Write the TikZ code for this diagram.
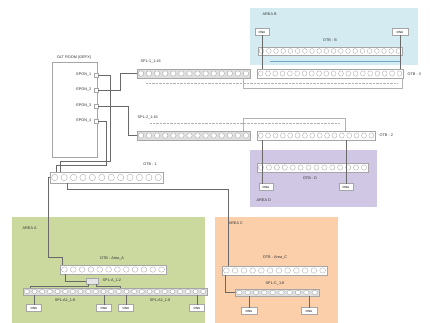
\documentclass[tikz,border=0pt]{standalone}
\usepackage{fontspec}
\setmainfont{Liberation Sans}
\definecolor{areaBc}{RGB}{212,236,241}
\definecolor{areaDc}{RGB}{207,199,228}
\definecolor{areaAc}{RGB}{203,217,158}
\definecolor{areaCc}{RGB}{250,207,170}
\definecolor{wirec}{RGB}{105,105,105}
\definecolor{bluel}{RGB}{110,165,200}
\newcommand\mkstrip[7]{%
  \node[#7, minimum width={(#4-#2)*1pt}, minimum height={(#5-#3)*1pt}] (#1) at ({(#2+#4)/2},{(#3+#5)/2}) {};
  \pgfmathsetmacro\mkpw{(#4-#2)/#6}%
  \pgfmathsetmacro\mkrx{0.33*\mkpw}%
  \pgfmathsetmacro\mkry{0.3*(#5-#3)}%
  \pgfmathsetmacro\mkcy{(#3+#5)/2}%
  \foreach \k in {1,...,#6}{\pgfmathsetmacro\mkcx{#2+(\k-0.5)*\mkpw}\draw[port] (\mkcx,\mkcy) ellipse [x radius=\mkrx pt, y radius=\mkry pt];}%
}
\tikzset{
  wire/.style={draw=wirec, line width=0.4pt},
  stripw/.style={draw=gray!70, fill=white, line width=0.4pt, inner sep=0pt, outer sep=0pt, rectangle},
  stripg/.style={draw=gray!70, fill=gray!25, line width=0.4pt, inner sep=0pt, outer sep=0pt, rectangle},
  port/.style={draw=gray!75, fill=white, line width=0.3pt},
  onu/.style={draw=gray!70, fill=white, line width=0.4pt, inner sep=0pt, outer sep=0pt, minimum width=14pt, minimum height=7pt, font=\fontsize{3}{3}\selectfont},
  oltport/.style={draw=gray!70, fill=white, line width=0.3pt, inner sep=0pt, outer sep=0pt, minimum size=4pt},
  lbl/.style={font=\fontsize{3.8}{4}\selectfont, text=black!80, inner sep=0.5pt},
  bus/.style={draw=gray!60, line width=0.3pt},
  dbus/.style={draw=gray!60, line width=0.6pt, dash pattern=on 0.4pt off 1pt},
}
\begin{document}
\begin{tikzpicture}[x=1pt,y=-1pt]
\useasboundingbox (0,0) rectangle (430,323);
\fill[white] (0,0) rectangle (430,323);
% areas
\fill[areaBc] (250,8) rectangle (418,65);
\fill[areaDc] (250,150) rectangle (377,207);
\fill[areaAc] (12,217) rectangle (205,323);
\fill[areaCc] (215,217) rectangle (338,323);
\node[lbl, anchor=west] (tAB) at (262,14) {AREA B};
\node[lbl, anchor=west] (tAD) at (256,200) {AREA D};
\node[lbl, anchor=west] (tAA) at (22,228) {AREA A};
\node[lbl, anchor=west] (tAC) at (228,223) {AREA C};

% OLT
\node[draw=gray!70, line width=0.4pt, fill=white, minimum width=45pt, minimum height=95pt, inner sep=0pt] (olt) at (74.5,109.5) {};
\node[lbl] (toLT) at (74,58) {OLT ROOM (GEPX)};
\node[oltport] (p1) at (96,75) {};
\node[oltport] (p2) at (96,90) {};
\node[oltport] (p3) at (96,106) {};
\node[oltport] (p4) at (96,121) {};
\node[lbl, anchor=east] (tp1) at (92,75) {EPON\_1};
\node[lbl, anchor=east] (tp2) at (92,90) {EPON\_2};
\node[lbl, anchor=east] (tp3) at (92,106) {EPON\_3};
\node[lbl, anchor=east] (tp4) at (92,121) {EPON\_4};

% strips
\mkstrip{otbB}{258}{47}{402}{55}{20}{stripw}
\mkstrip{spl1}{137}{69}{250}{78}{14}{stripg}
\mkstrip{otb3}{257}{69}{403}{78}{20}{stripw}
\mkstrip{spl2}{137}{131}{250}{140}{14}{stripg}
\mkstrip{otb2}{257}{131}{375}{140}{16}{stripw}
\mkstrip{otbD}{257}{163}{368}{172}{14}{stripw}
\mkstrip{otb1}{50}{172}{163}{183}{12}{stripw}
\mkstrip{otbA}{60}{265}{166}{274}{12}{stripw}
\mkstrip{splA}{23}{288}{207}{295}{24}{stripg}
\mkstrip{otbC}{222}{266}{327}{275}{12}{stripw}
\mkstrip{splC}{235}{289}{319}{296}{10}{stripg}

\node[lbl] (tB) at (330,40) {OTB - B};
\node[lbl, anchor=west] (tS1) at (140,62) {SPL-1\_1:16};
\node[lbl, anchor=west] (t3) at (407,74) {OTB - 3};
\node[lbl, anchor=west] (tS2) at (137,118) {SPL-2\_1:16};
\node[lbl, anchor=west] (t2) at (379,135) {OTB - 2};
\node[lbl] (tD) at (310,178) {OTB - D};
\node[lbl] (t1) at (150,164) {OTB - 1};
\node[lbl] (tA) at (112,259) {OTB - Area\_A};
\node[lbl, anchor=west] (tsA) at (102,281) {SPL-A\_1:2};
\node[lbl] (tsA1) at (65,301) {SPL-A1\_1:8};
\node[lbl] (tsA2) at (160,301) {SPL-A2\_1:8};
\node[lbl] (tC) at (275,258) {OTB - Area\_C};
\node[lbl] (tsC) at (275,284) {SPL-C\_1:8};

% ONU boxes
\node[onu] (bB1) at (262,32) {ONU};
\node[onu, minimum width=16pt] (bB2) at (400,32) {ONU};
\node[onu] (bD1) at (266,187) {ONU};
\node[onu] (bD2) at (346,187) {ONU};
\node[onu, minimum width=15pt] (bA1) at (34,308) {ONU};
\node[onu, minimum width=15pt] (bA2) at (104,308) {ONU};
\node[onu, minimum width=15pt] (bA3) at (126,308) {ONU};
\node[onu, minimum width=15pt] (bA4) at (197,308) {ONU};
\node[onu, minimum width=16pt] (bC1) at (249,311) {ONU};
\node[onu, minimum width=16pt] (bC2) at (309,311) {ONU};
\node[onu, minimum width=12pt, minimum height=6pt, fill=gray!20] (sA) at (92,281) {};

% buses between splitters and OTBs
\draw[bus] (243,78) -- (243,88) -- (402,88) -- (402,78);
\draw[dbus] (146,83) -- (398,83);
\draw[bus] (243,131) -- (243,118) -- (345,118) -- (345,131);
\draw[dbus] (150,123) -- (340,123);
\draw[bluel, line width=0.8pt] (270,61) -- (400,61);

% OLT wiring
\draw[wire] (p1.east) -- (110,75) -- (110,161) -- (60,161) -- (60,172);
\draw[wire] (p2.east) -- (120,90) |- (spl1.west);
\draw[wire] (p3.east) -- (128,106) |- (spl2.west);
\draw[wire] (p4.east) -- (106,121) -- (106,165) -- (56,165) -- (56,172);

% area B
\draw[wire] (bB1.south) -- (262,69);
\draw[wire] (bB2.south) -- (400,69);
% area D
\draw[wire] (262,140) -- (262,183.5);
\draw[wire] (346,140) -- (bD2.north);
% OTB-1 to areas
\draw[wire] (otb1.west) -- (48,177.5) -- (48,257) -- (62,257) -- (62,265);
\draw[wire] (67,183) -- (67,189) -- (228,189) -- (228,266);
% area A
\draw[wire] (65,274) |- (sA.west);
\draw[wire] (88,284) -- (88,286) -- (30,286) -- (30,288);
\draw[wire] (96,284) -- (96,286) -- (120,286) -- (120,288);
\draw[wire] (34,295) -- (bA1.north);
\draw[wire] (104,295) -- (bA2.north);
\draw[wire] (126,295) -- (bA3.north);
\draw[wire] (197,295) -- (bA4.north);
% area C
\draw[wire] (225,275) |- (splC.west);
\draw[wire] (249,296) -- (bC1.north);
\draw[wire] (309,296) -- (bC2.north);
\end{tikzpicture}
\end{document}
